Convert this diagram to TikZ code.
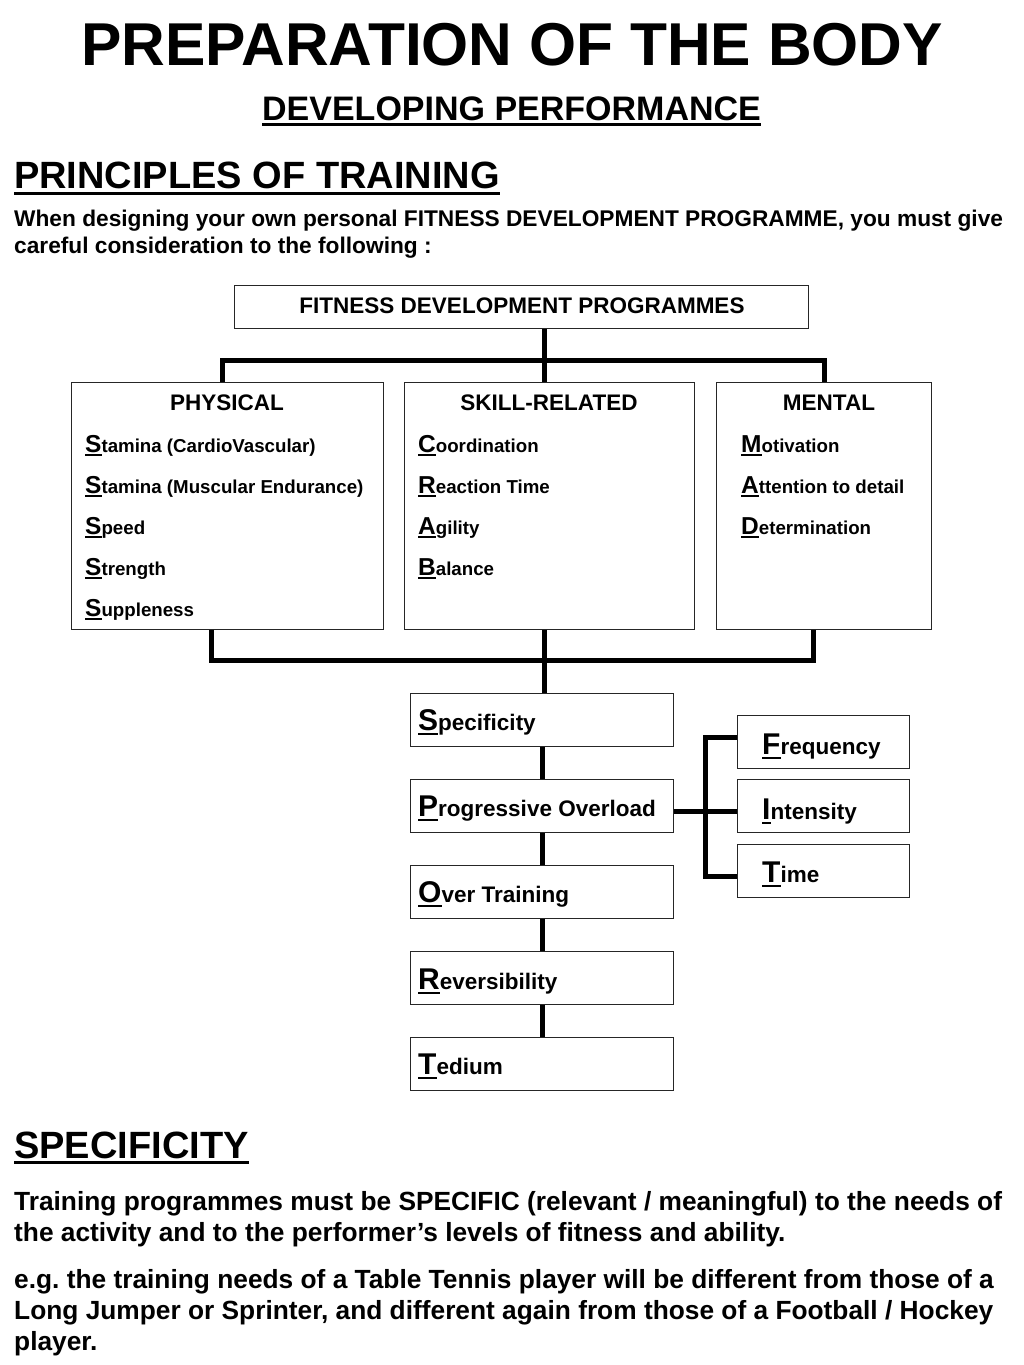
\documentclass[tikz,border=0pt]{standalone}
\usepackage{fontspec}
\setmainfont{Liberation Sans}
\frenchspacing
\newcommand\ulet[1]{\setbox0\hbox{#1}\rlap{\rule[-0.17em]{\wd0}{0.085em}}\box0}
\newcommand\BL[2]{{\fontsize{#1}{#1}\selectfont\ulet{#2}}}
\tikzset{
  box/.style={draw=black!85, line width=1.4pt, anchor=north west, inner sep=0pt},
  conn/.style={draw=black, line width=5pt},
  txt/.style={anchor=base west, inner sep=0pt, font=\bfseries},
  intro/.style={anchor=base west, inner sep=0pt, font=\bfseries\fontsize{22.7}{22.7}\selectfont},
  para/.style={anchor=base west, inner sep=0pt, font=\bfseries\fontsize{26.3}{26.3}\selectfont},
  hd/.style={anchor=base, inner sep=0pt, font=\bfseries\fontsize{22.5}{22.5}\selectfont},
  item/.style={anchor=base west, inner sep=0pt, font=\bfseries\fontsize{18.7}{18.7}\selectfont},
  prin/.style={anchor=base west, inner sep=0pt, font=\bfseries\fontsize{22.5}{22.5}\selectfont},
}
\begin{document}
\begin{tikzpicture}[x=1pt,y=-1pt]
\useasboundingbox (0,0) rectangle (1024,1365);
% headings
\node[anchor=base, inner sep=0pt, font=\bfseries\fontsize{60.5}{60.5}\selectfont] (title) at (512,65) {PREPARATION OF THE BODY};
\node[anchor=base, inner sep=0pt, font=\bfseries\fontsize{34}{34}\selectfont] (sub) at (511.5,120.5) {\ulet{DEVELOPING PERFORMANCE}};
\node[txt, font=\bfseries\fontsize{38}{38}\selectfont] (pot) at (14,188.5) {\ulet{PRINCIPLES OF TRAINING}};
\node[intro] (intro1) at (14,226.5) {When designing your own personal FITNESS DEVELOPMENT PROGRAMME, you must give};
\node[intro] (intro2) at (14,253.5) {careful consideration to the following :};
% boxes
\node[box, minimum width=574pt, minimum height=43pt] (fdp) at (234,285) {};
\node[hd] (fdpt) at (522,313) {FITNESS DEVELOPMENT PROGRAMMES};
\node[box, minimum width=312pt, minimum height=247pt] (phys) at (71,381.5) {};
\node[box, minimum width=290pt, minimum height=247pt] (skill) at (404,381.5) {};
\node[box, minimum width=215pt, minimum height=247pt] (mental) at (716,381.5) {};
\node[hd] (physh) at (227,410.5) {PHYSICAL};
\node[hd] (skillh) at (549,410.5) {SKILL-RELATED};
\node[hd] (mentalh) at (829,410.5) {MENTAL};
\node[item] (p1) at (85,452) {\BL{24.5}{S}tamina (CardioVascular)};
\node[item] (p2) at (85,493) {\BL{24.5}{S}tamina (Muscular Endurance)};
\node[item] (p3) at (85,534) {\BL{24.5}{S}peed};
\node[item] (p4) at (85,575) {\BL{24.5}{S}trength};
\node[item] (p5) at (85,616) {\BL{24.5}{S}uppleness};
\node[item] (s1) at (418,452) {\BL{24.5}{C}oordination};
\node[item] (s2) at (418,493) {\BL{24.5}{R}eaction Time};
\node[item] (s3) at (418,534) {\BL{24.5}{A}gility};
\node[item] (s4) at (418,575) {\BL{24.5}{B}alance};
\node[item] (m1) at (741,452) {\BL{24.5}{M}otivation};
\node[item] (m2) at (741,493) {\BL{24.5}{A}ttention to detail};
\node[item] (m3) at (741,534) {\BL{24.5}{D}etermination};
% principles
\node[box, minimum width=263pt, minimum height=53pt] (spec) at (410,693) {};
\node[box, minimum width=263pt, minimum height=53pt] (po) at (410,779) {};
\node[box, minimum width=263pt, minimum height=53pt] (ot) at (410,865) {};
\node[box, minimum width=263pt, minimum height=53pt] (rev) at (410,951) {};
\node[box, minimum width=263pt, minimum height=53pt] (ted) at (410,1037) {};
\node[prin] (spect) at (418,730) {\BL{30}{S}pecificity};
\node[prin] (pot2) at (418,816) {\BL{30}{P}rogressive Overload};
\node[prin] (ott) at (418,902) {\BL{30}{O}ver Training};
\node[prin] (revt) at (418,989) {\BL{30}{R}eversibility};
\node[prin] (tedt) at (418,1074) {\BL{30}{T}edium};
\node[box, minimum width=172pt, minimum height=53pt] (freq) at (737,715) {};
\node[box, minimum width=172pt, minimum height=53pt] (int) at (737,779) {};
\node[box, minimum width=172pt, minimum height=53pt] (time) at (737,844) {};
\node[prin] (freqt) at (762,754) {\BL{30}{F}requency};
\node[prin] (intt) at (762,819) {\BL{30}{I}ntensity};
\node[prin] (timet) at (762,882) {\BL{30}{T}ime};
% connectors
\coordinate (tm) at (544,360);
\coordinate (tl) at (222,360);
\coordinate (tr) at (824,360);
\draw[conn] (tm |- fdp.south) -- (tm |- skill.north);
\draw[conn] (tl |- phys.north) -- (tl) -- (tr) -- (tr |- mental.north);
\coordinate (bm) at (544,660);
\coordinate (bl) at (211,660);
\coordinate (br) at (813,660);
\draw[conn] (bl |- phys.south) -- (bl) -- (br) -- (br |- mental.south);
\draw[conn] (bm |- skill.south) -- (bm |- spec.north);
\draw[conn] (spec.south) -- (po.north);
\draw[conn] (po.south) -- (ot.north);
\draw[conn] (ot.south) -- (rev.north);
\draw[conn] (rev.south) -- (ted.north);
\coordinate (rx) at (705.5,0);
\draw[conn] ([yshift=5pt]freq.west) -- ([yshift=5pt]freq.west -| rx) -- ([yshift=-5pt]time.west -| rx) -- ([yshift=-5pt]time.west);
\draw[conn] ([yshift=-5pt]po.east) -- ([yshift=-5pt]int.west);
% specificity
\node[txt, font=\bfseries\fontsize{38}{38}\selectfont] (spech) at (14,1158) {\ulet{SPECIFICITY}};
\node[para] (l1) at (14,1210) {Training programmes must be SPECIFIC (relevant / meaningful) to the needs of};
\node[para] (l2) at (14,1241.5) {the activity and to the performer’s levels of fitness and ability.};
\node[para] (l3) at (14,1288) {e.g. the training needs of a Table Tennis player will be different from those of a};
\node[para] (l4) at (14,1319) {Long Jumper or Sprinter, and different again from those of a Football / Hockey};
\node[para] (l5) at (14,1350) {player.};
\end{tikzpicture}
\end{document}
